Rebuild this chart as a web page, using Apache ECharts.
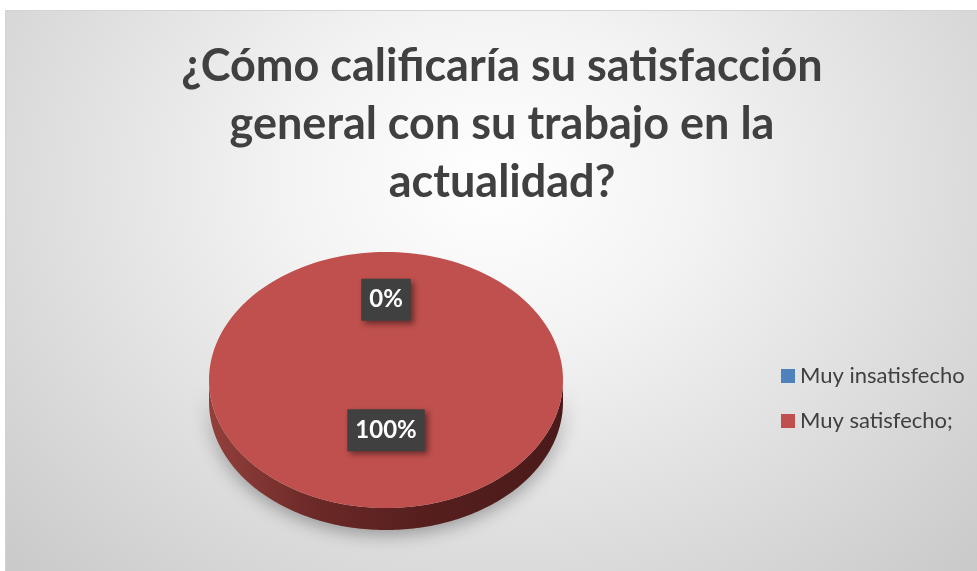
<!DOCTYPE html>
<html>
<head>
<meta charset="utf-8">
<script src="https://cdn.jsdelivr.net/npm/echarts@6/dist/echarts.min.js"></script>
<style>
	html, body { margin: 0; padding: 0; background: #fff; }
	#bg {
		position: absolute; left: 5px; top: 10px; width: 972px; height: 561px;
		border-top: 1px solid #d4d4d4; border-left: 1px solid #d4d4d4;
		background: radial-gradient(ellipse farthest-corner at 50% 30%, #ffffff 0%, #f3f3f3 30%, #c9c9c9 100%);
	}
	#chart { position: absolute; left: 0; top: 0; width: 977px; height: 571px; }
</style>
</head>
<body>
<div id="bg"></div>
<div id="chart"></div>
<script>
// datos
const categories = ['Muy insatisfecho', 'Muy satisfecho;']
const values = [0, 100]
const colors = ['#4F81BD', '#C0504D']
const titleText = '¿Cómo calificaría su satisfacción\ngeneral con su trabajo en la\nactualidad?'

const total = values.reduce((a, b) => a + b, 0)
const starts = values.map((v, i) => values.slice(0, i).reduce((a, b) => a + b, 0))

// geometría del pastel 3D
const pie = { cx: 386, cy: 380, rx: 177, ry: 128, depth: 22 }
const labelOffsetY = -15
const labelFrac = 0.51

const pt = (a, dy = 0) => [pie.cx + pie.rx * Math.sin(a), pie.cy - pie.ry * Math.cos(a) + dy]

const renderSlice = (params, api) => {
	const i = params.seriesIndex
	const v = api.value(0)
	const a0 = (starts[i] / total) * Math.PI * 2
	const a1 = ((starts[i] + v) / total) * Math.PI * 2
	const children = []
	const steps = 180
	if (a1 > a0) {
		// lateral (solo la mitad inferior es visible)
		const s = Math.max(a0, Math.PI / 2)
		const e = Math.min(a1, Math.PI * 1.5)
		if (e > s) {
			const side = []
			for (let k = 0; k <= steps; k++) side.push(pt(s + ((e - s) * k) / steps))
			for (let k = steps; k >= 0; k--) side.push(pt(s + ((e - s) * k) / steps, pie.depth))
			children.push({
				type: 'polygon',
				shape: { points: side },
				style: {
					fill: {
						type: 'linear', x: 0, y: 0, x2: 1, y2: 0,
						colorStops: [
							{ offset: 0, color: '#93403c' },
							{ offset: 0.3, color: '#6b2927' },
							{ offset: 0.6, color: '#561f1e' },
							{ offset: 1, color: '#4a1a1a' },
						],
					},
					shadowBlur: 18,
					shadowColor: 'rgba(0,0,0,0.35)',
					shadowOffsetY: 4,
				},
			})
		}
		// cara superior
		const top = [[pie.cx, pie.cy]]
		for (let k = 0; k <= steps; k++) top.push(pt(a0 + ((a1 - a0) * k) / steps))
		children.push({
			type: 'polygon',
			shape: { points: top },
			style: { fill: colors[i] },
		})
	}
	// etiqueta
	const mid = (a0 + a1) / 2
	const lx = pie.cx + labelFrac * pie.rx * Math.sin(mid)
	const ly = pie.cy + labelOffsetY - labelFrac * pie.ry * Math.cos(mid)
	children.push({
		type: 'text',
		x: lx,
		y: ly,
		z2: 100,
		style: {
			text: Math.round((v / total) * 100) + '%',
			fill: '#ffffff',
			fontSize: 24,
			fontWeight: 'bold',
			fontFamily: 'Lato',
			align: 'center',
			verticalAlign: 'middle',
			lineHeight: 30,
			backgroundColor: '#404040',
			padding: [6, 8],
			shadowBlur: 6,
			shadowColor: 'rgba(0,0,0,0.45)',
			shadowOffsetX: 3,
			shadowOffsetY: 3,
		},
	})
	return { type: 'group', children }
}

const chart = echarts.init(document.getElementById('chart'))
chart.setOption({
	animation: false,
	title: {
		text: titleText,
		left: 497,
		top: 32,
		textAlign: 'center',
		textStyle: {
			fontFamily: 'Lato',
			fontWeight: 'bold',
			fontSize: 45,
			lineHeight: 58,
			color: '#404040',
		},
	},
	legend: {
		orient: 'vertical',
		left: 776,
		top: 360,
		itemWidth: 14,
		itemHeight: 14,
		itemGap: 23,
		icon: 'rect',
		data: categories,
		textStyle: { fontFamily: 'Lato', fontSize: 22, color: '#404040' },
	},
	series: categories.map((name, i) => ({
		name,
		type: 'custom',
		coordinateSystem: 'none',
		itemStyle: { color: colors[i] },
		renderItem: renderSlice,
		data: [[values[i]]],
	})),
})
</script>
</body>
</html>
